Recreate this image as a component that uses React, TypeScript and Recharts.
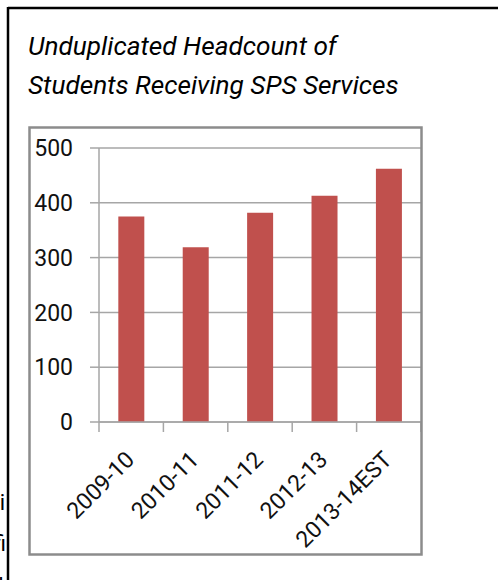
import React from 'react';
import { BarChart, Bar, XAxis, YAxis, CartesianGrid } from 'recharts';

const categories = ['2009-10', '2010-11', '2011-12', '2012-13', '2013-14EST'];
const headcount = [375, 319, 382, 413, 462];
const yTicks = [0, 100, 200, 300, 400, 500];
const titleLines = ['Unduplicated Headcount of', 'Students Receiving SPS Services'];

const data = categories.map((c, i) => ({ year: c, value: headcount[i] }));

const FONT = 'Roboto, "Open Sans", sans-serif';
const GRID = '#a6a6a6';
const PLOT_LEFT = 99;
const PLOT_RIGHT = 421;
const BAND = (PLOT_RIGHT - PLOT_LEFT) / categories.length;

const XTick = (props: any) => {
  const { x, y, payload, index } = props;
  const bx = x + 4.5;
  const by = y + 39;
  return (
    <g>
      <line x1={x - BAND / 2} y1={y} x2={x - BAND / 2} y2={y + 10} stroke={GRID} strokeWidth={1.5} />
      {index === categories.length - 1 && (
        <line x1={x + BAND / 2} y1={y} x2={x + BAND / 2} y2={y + 10} stroke={GRID} strokeWidth={1.5} />
      )}
      <text
        x={bx}
        y={by}
        textAnchor="end"
        transform={`rotate(-45, ${bx}, ${by})`}
        fontFamily={FONT}
        fontSize={23}
        fill="#111"
      >
        {payload.value}
      </text>
    </g>
  );
};

export default function App() {
  return (
    <div style={{ position: 'absolute', left: 0, top: 0, width: 498, height: 580, background: '#fff', overflow: 'hidden' }}>
      <div style={{ position: 'absolute', left: 0, top: 0 }}>
        <BarChart
          width={498}
          height={580}
          data={data}
          margin={{ top: 148, right: 77, bottom: 128, left: 39 }}
          barCategoryGap="30%"
        >
          <CartesianGrid horizontal={true} vertical={false} stroke={GRID} strokeWidth={1.5} />
          <XAxis
            dataKey="year"
            interval={0}
            height={30}
            axisLine={{ stroke: GRID, strokeWidth: 1.5 }}
            tickLine={false}
            tickSize={0}
            tickMargin={0}
            tick={<XTick />}
          />
          <YAxis
            width={60}
            domain={[0, 500]}
            ticks={yTicks}
            interval={0}
            axisLine={{ stroke: GRID, strokeWidth: 1.5 }}
            tickLine={{ stroke: GRID, strokeWidth: 1.5 }}
            tickSize={9}
            tickMargin={17}
            tick={{ fontFamily: FONT, fontSize: 23, fill: '#111' }}
          />
          <Bar dataKey="value" fill="#C0504D" isAnimationActive={false} />
        </BarChart>
      </div>
      <svg width={498} height={580} style={{ position: 'absolute', left: 0, top: 0, pointerEvents: 'none' }}>
        <line x1={8} y1={8} x2={498} y2={8} stroke="#000" strokeWidth={2.5} />
        <line x1={8} y1={7} x2={8} y2={580} stroke="#000" strokeWidth={2.5} />
        <rect x={29.5} y={127.5} width={392} height={427} fill="none" stroke="#8c8c8c" strokeWidth={2.5} />
        {titleLines.map((t, i) => (
          <text key={t} x={28} y={55 + i * 39} fontFamily={FONT} fontStyle="italic" fontSize={26.2} fill="#000">
            {t}
          </text>
        ))}
        <text x={5} y={510} textAnchor="end" fontFamily={FONT} fontSize={22} fill="#000">i</text>
        <text x={6} y={551} textAnchor="end" fontFamily={FONT} fontSize={22} fill="#000">fi</text>
        <text x={5} y={592} textAnchor="end" fontFamily={FONT} fontSize={22} fill="#000">t</text>
      </svg>
    </div>
  );
}
